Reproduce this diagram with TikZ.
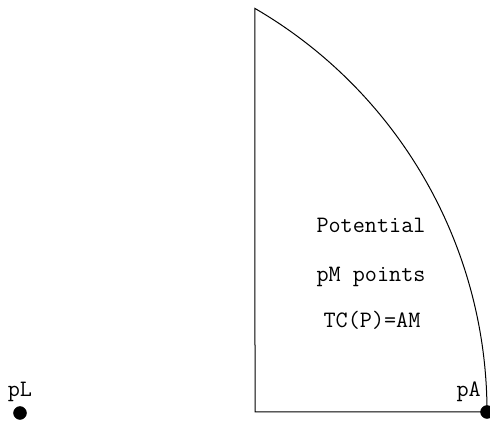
\documentclass[tikz,border=0pt]{standalone}
\usepackage{fontspec}
\usepackage{tikz}
\usetikzlibrary{positioning, arrows.meta}
\tikzset{
  pdot/.style={circle, fill=black, draw=black, minimum size=13pt, inner sep=0pt},
  plab/.style={font=\ttfamily\fontsize{23.5}{27}\selectfont, inner sep=0pt},
  rline/.style={line width=1pt, black},
}
\begin{document}
\begin{tikzpicture}[x=1pt, y=1pt]
  \useasboundingbox (0,0) rectangle (490,423);
  % points and region
  \node[pdot] (pL) at (20,10) {};
  \node[pdot] (pA) at (487,11) {};
  \coordinate (corner) at (255,11);
  \pgfmathsetmacro{\ang}{acos(235/467)}
  \draw[rline] (pA.center) arc[start angle=0, end angle=\ang, radius=467] coordinate (top)
    -- (corner) -- (pA.center);
  \node[plab, anchor=base] (lL) at (20,26) {pL};
  \node[plab, anchor=base east] (lA) at (481,26) {pA};
  \node[plab, anchor=base] (t1) at (371,190) {Potential};
  \node[plab, anchor=base] (t2) at (371,141) {pM points};
  \node[plab, anchor=base] (t3) at (372,95) {TC(P)=AM};
\end{tikzpicture}
\end{document}
